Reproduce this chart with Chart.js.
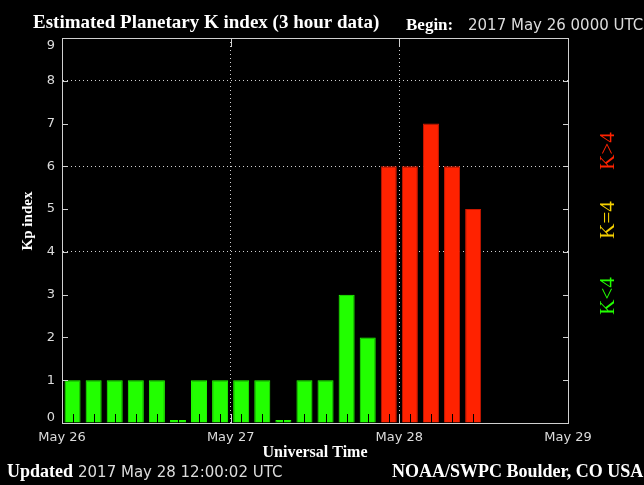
<!DOCTYPE html>
<html>
<head>
<meta charset="utf-8">
<title>Estimated Planetary K index</title>
<script src="https://cdn.jsdelivr.net/npm/chart.js@4.4.0/dist/chart.umd.min.js"></script>
<style>
  html, body { margin: 0; padding: 0; background: #000; }
  #kp-chart { display: block; }
</style>
</head>
<body>
<canvas id="kp-chart" width="644" height="485"></canvas>
<script>
  // Kp, one value per 3 hour bin from 2017 May 26 00 UT
  const kpValues = [1,1,1,1,1,0,1,1, 1,1,0,1,1,3,2,6, 6,7,6,5];
  const dayLabels = ['May 26','May 27','May 28','May 29'];
  const kpTicks = [0,1,2,3,4,5,6,7,8,9];
  const dottedLevels = [4,6,8];
  const binsPerDay = 8;

  const green = '#22ff00', yellow = '#f5d000', red = '#ff2200';
  const frameColor = '#d0d0d0';
  const labelColor = '#dcdcdc';

  function kpColor(v) {
    return v > 4 ? red : (v == 4 ? yellow : green);
  }
  function kpBorder(v) {
    return v > 4 ? '#c81800' : kpColor(v);
  }

  const bars = kpValues.map((v, i) => ({x: i + 0.5, y: v}));
  const dayEdges = dayLabels.map((d, i) => i * binsPerDay);
  const yMin = kpTicks[0], yMax = kpTicks[kpTicks.length - 1];

  // frame, inward ticks, dark tick marks in the bars
  const frame = {
    id: 'frame',
    afterDatasetsDraw(chart) {
      const {ctx, chartArea: a, scales: {x, y}} = chart;
      ctx.save();
      ctx.lineWidth = 1;
      ctx.strokeStyle = '#000';
      chart.getDatasetMeta(0).data.forEach(b => {
        const px = Math.round(b.x) + 0.5;
        ctx.beginPath();
        ctx.moveTo(px, a.bottom);
        ctx.lineTo(px, a.bottom - 9);
        ctx.stroke();
      });
      ctx.strokeStyle = frameColor;
      ctx.strokeRect(a.left + 0.5, a.top + 0.5, a.right - a.left, a.bottom - a.top);
      ctx.beginPath();
      kpTicks.forEach(v => {
        const py = Math.round(y.getPixelForValue(v)) + 0.5;
        ctx.moveTo(a.left, py); ctx.lineTo(a.left + 6, py);
        ctx.moveTo(a.right - 5, py); ctx.lineTo(a.right + 1, py);
      });
      dayEdges.slice(1, -1).forEach(v => {
        const px = Math.round(x.getPixelForValue(v)) + 0.5;
        ctx.moveTo(px, a.bottom); ctx.lineTo(px, a.bottom - 9);
        ctx.moveTo(px, a.top); ctx.lineTo(px, a.top + 9);
      });
      ctx.stroke();

      // end labels of the y axis sit inside the frame, like the original
      ctx.fillStyle = labelColor;
      ctx.font = '13px "DejaVu Sans"';
      ctx.textAlign = 'right';
      ctx.textBaseline = 'top';
      ctx.fillText(String(yMax), a.left - 7, y.getPixelForValue(yMax) + 1);
      ctx.textBaseline = 'bottom';
      ctx.fillText(String(yMin), a.left - 7, y.getPixelForValue(yMin) + 1);
      ctx.restore();
    },
    afterDraw(chart) {
      const ctx = chart.ctx;
      ctx.save();
      ctx.textBaseline = 'alphabetic';
      ctx.textAlign = 'left';
      ctx.fillStyle = '#fff';
      ctx.font = 'bold 19px "Liberation Serif"';
      ctx.fillText('Estimated Planetary K index (3 hour data)', 33, 28);
      ctx.font = 'bold 17px "Liberation Serif"';
      ctx.fillText('Begin:', 406, 30);
      ctx.fillStyle = labelColor;
      ctx.font = '15px "DejaVu Sans"';
      ctx.fillText('2017 May 26 0000 UTC', 468, 30);

      ctx.fillStyle = '#fff';
      ctx.font = 'bold 18px "Liberation Serif"';
      ctx.fillText('Updated', 7, 477);
      ctx.fillText('NOAA/SWPC Boulder, CO USA', 392, 477);
      ctx.fillStyle = labelColor;
      ctx.font = '15px "DejaVu Sans"';
      ctx.fillText('2017 May 28 12:00:02 UTC', 78, 477);

      // rotated texts
      const rot = (text, cx, cy, font, color) => {
        ctx.save();
        ctx.translate(cx, cy);
        ctx.rotate(-Math.PI / 2);
        ctx.textAlign = 'center';
        ctx.textBaseline = 'middle';
        ctx.font = font;
        ctx.fillStyle = color;
        ctx.fillText(text, 0, 0);
        ctx.restore();
      };
      rot('Kp index', 28, 221, 'bold 15px "Liberation Serif"', '#fff');
      rot('K>4', 608, 151, '21px "Liberation Serif"', red);
      rot('K=4', 608, 220, '21px "Liberation Serif"', yellow);
      rot('K<4', 608, 296, '21px "Liberation Serif"', green);
      ctx.restore();
    }
  };

  Chart.defaults.font.family = '"DejaVu Sans"';
  Chart.defaults.color = labelColor;

  const kpChart = new Chart(document.getElementById('kp-chart'), {
    type: 'bar',
    data: {
      datasets: [{
        label: 'Kp',
        data: bars,
        backgroundColor: c => kpColor(c.raw ? c.raw.y : 0),
        borderColor: c => kpBorder(c.raw ? c.raw.y : 0),
        borderWidth: 1,
        minBarLength: 3,
        barPercentage: 0.76,
        categoryPercentage: 1.0
      }]
    },
    options: {
      responsive: false,
      animation: false,
      layout: { padding: { left: 0, right: 76, top: 38, bottom: 0 } },
      plugins: {
        legend: { display: false },
        tooltip: { enabled: false }
      },
      scales: {
        x: {
          type: 'linear',
          min: 0,
          max: dayLabels.length * binsPerDay - binsPerDay,
          offset: false,
          afterFit: s => { s.height = 62; },
          grid: {
            offset: false,
            drawTicks: false,
            color: c => (c.tick && c.tick.value % binsPerDay == 0 && c.tick.value > 0 && c.tick.value < 24) ? frameColor : 'transparent'
          },
          border: { color: frameColor, dash: [1, 3] },
          ticks: {
            stepSize: binsPerDay,
            autoSkip: false,
            maxRotation: 0,
            padding: 7,
            font: { size: 13 },
            callback: v => dayLabels[v / binsPerDay]
          },
          title: {
            display: true,
            text: 'Universal Time',
            color: '#fff',
            font: { family: '"Liberation Serif"', size: 16, weight: 'bold' },
            padding: { top: 0, bottom: 23 }
          }
        },
        y: {
          min: yMin,
          max: yMax,
          afterFit: s => { s.width = 62; },
          grid: {
            drawTicks: false,
            color: c => (c.tick && dottedLevels.includes(c.tick.value)) ? frameColor : 'transparent'
          },
          border: { color: frameColor, dash: [1, 3] },
          ticks: {
            stepSize: 1,
            padding: 7,
            font: { size: 13 },
            // first and last labels are drawn by the frame plugin
            color: c => (c.tick.value == yMin || c.tick.value == yMax) ? 'transparent' : labelColor
          }
        }
      }
    },
    plugins: [frame]
  });
</script>
</body>
</html>
